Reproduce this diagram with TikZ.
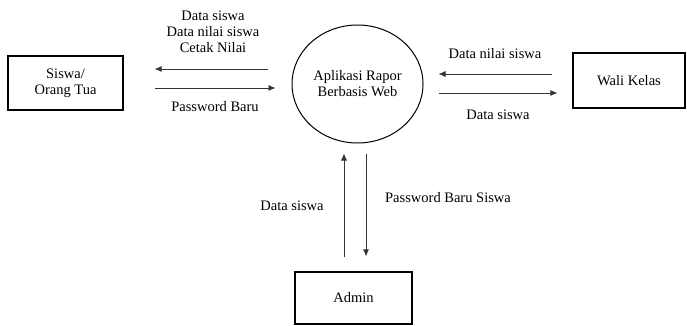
\documentclass[tikz,border=0pt]{standalone}
\usepackage{fontspec}
\setmainfont{Liberation Serif}
\usetikzlibrary{shapes.geometric,arrows.meta}

\begin{document}
\begin{tikzpicture}[x=1pt,y=-1pt,
  every node/.style={font=\fontsize{14.5}{16}\selectfont, align=center},
  entity/.style={draw, line width=1.2pt, inner sep=0pt},
  proc/.style={draw, ellipse, line width=1pt, minimum width=131pt, minimum height=118pt, inner sep=0pt},
  flow/.style={draw=black!80, line width=0.8pt, -{Latex[length=7pt,width=6pt]}}]
\useasboundingbox (0,0) rectangle (687,326);

% proses dan entitas
\node[proc] (app) at (357.5,84) {Aplikasi Rapor\\Berbasis Web};
\node[entity, minimum width=115pt, minimum height=54pt] (siswa) at (65.5,83) {Siswa/\\Orang Tua};
\node[entity, minimum width=112pt, minimum height=55pt] (wali) at (629,80.5) {Wali Kelas};
\node[entity, minimum width=117pt, minimum height=52pt] (admin) at (353.5,298) {Admin};

% aliran data
\draw[flow, shorten <=24pt, shorten >=31pt] ([yshift=15pt]app.west) -- ([yshift=15pt]app.west -| siswa.east);
\draw[flow, shorten <=31pt, shorten >=16pt] ([yshift=-4pt]app.west -| siswa.east) -- ([yshift=-4pt]app.west);
\draw[flow, shorten <=20pt, shorten >=15pt] ([yshift=10pt]app.east -| wali.west) -- ([yshift=10pt]app.east);
\draw[flow, shorten <=15pt, shorten >=15pt] ([yshift=-9pt]app.east) -- ([yshift=-9pt]app.east -| wali.west);
\draw[flow, shorten <=14pt, shorten >=10pt] ([xshift=-9.5pt]admin.north) -- ([xshift=-9.5pt]admin.north |- app.south);
\draw[flow, shorten <=10pt, shorten >=15pt] ([xshift=8.5pt]app.south) -- ([xshift=8.5pt]app.south |- admin.north);

% label
\node (lsiswa) at (213,32) {Data siswa\\Data nilai siswa\\Cetak Nilai};
\node (lpass) at (215,107) {Password Baru};
\node (lwali) at (495,54) {Data nilai siswa};
\node (lwali2) at (498,115) {Data siswa};
\node (ladmin) at (292,206) {Data siswa};
\node (ladmin2) at (448,198) {Password Baru Siswa};
\end{tikzpicture}
\end{document}
